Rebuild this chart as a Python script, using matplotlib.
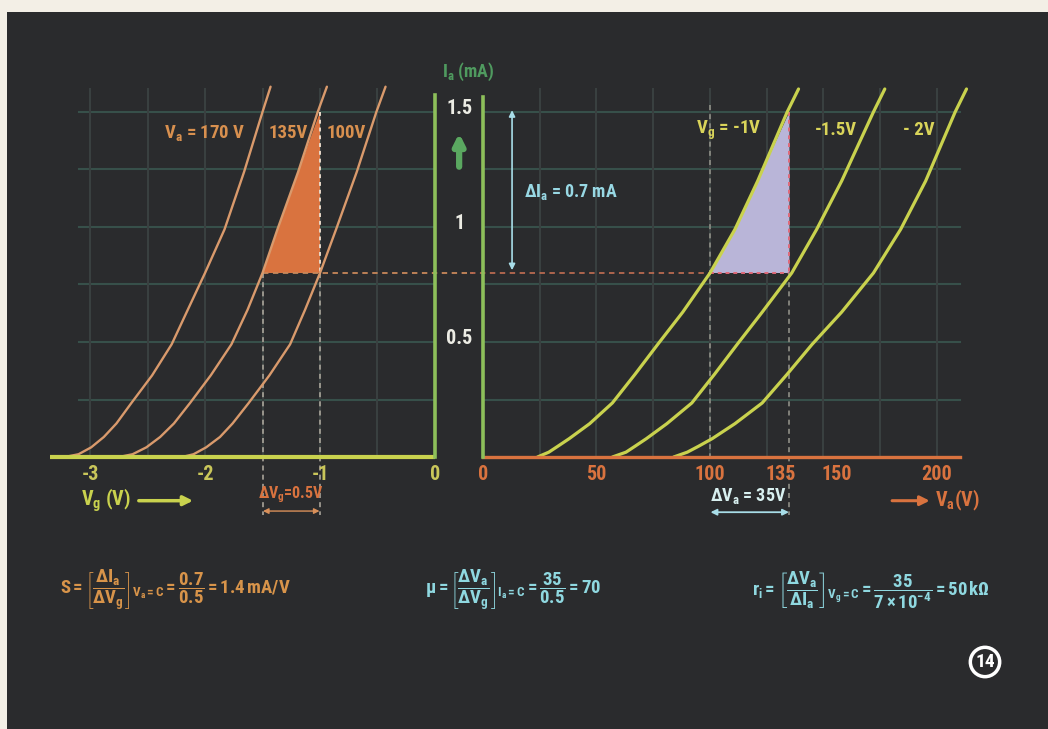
import matplotlib
matplotlib.use('Agg')
import matplotlib.pyplot as plt
from matplotlib import font_manager
from matplotlib.patches import Rectangle, Polygon

# --- data ---
# left panel: Ia (mA) versus Vg (V) for three anode voltages
left_ia = [0, 0.012, 0.042, 0.087, 0.146, 0.235, 0.355, 0.49, 0.64, 0.80, 0.99, 1.24, 1.50, 1.61]
va170_vg = [-3.22, -3.10, -2.99, -2.88, -2.77, -2.64, -2.46, -2.29, -2.15, -2.00, -1.83, -1.66, -1.50, -1.43]
va135_vg = [-2.75, -2.63, -2.51, -2.39, -2.27, -2.13, -1.95, -1.77, -1.63, -1.50, -1.37, -1.19, -1.02, -0.94]
va100_vg = [-2.20, -2.10, -1.99, -1.87, -1.76, -1.62, -1.44, -1.26, -1.13, -1.00, -0.86, -0.68, -0.51, -0.43]
left_tri_vg = [-1.50, -1.37, -1.19, -1.00, -1.00]
left_tri_ia = [0.80, 0.99, 1.24, 1.50, 0.80]

# right panel: Ia (mA) versus Va (V) for three grid voltages
right_ia = [0, 0.021, 0.047, 0.08, 0.145, 0.235, 0.36, 0.49, 0.63, 0.80, 0.99, 1.20, 1.50, 1.60]
vg1_va = [24, 29, 33, 38, 47, 57, 67, 77, 88, 100, 111, 121, 134, 139]
vg15_va = [57, 63, 67, 72, 81, 92, 102, 112, 123, 136, 147, 158, 172, 177]
vg2_va = [84, 90, 95, 101, 111, 123, 134, 145, 158, 172, 184, 195, 208, 213]
right_tri_va = [100, 111, 121, 135, 135]
right_tri_ia = [0.80, 0.99, 1.20, 1.50, 0.80]

left_ticks = [-3, -2, -1, 0]
right_ticks = [0, 50, 100, 135, 150, 200]
ia_ticks = [0.5, 1, 1.5]
grid_ia = [0.25, 0.5, 0.75, 1.0, 1.25, 1.5]
grid_vg = [-3, -2.5, -2, -1.5, -1, -0.5]
grid_va = [25, 50, 75, 100, 125, 150, 175, 200]

# --- font: prefer a condensed face like the original lettering ---
font, stretch, k = 'DejaVu Sans', 'normal', 0.86
fonts = font_manager.fontManager.ttflist
for cand in ('Roboto Condensed', 'Liberation Sans Narrow', 'Open Sans Condensed'):
    if any(f.name == cand for f in fonts):
        font, stretch, k = cand, 'normal', 1.0
        break
else:
    if any(f.name == 'DejaVu Sans' and f.stretch == 'condensed' for f in fonts):
        font, stretch, k = 'DejaVu Sans', 'condensed', 1.0

plt.rcParams['font.family'] = font
plt.rcParams['font.stretch'] = stretch
plt.rcParams['font.weight'] = 'bold'
plt.rcParams['mathtext.fontset'] = 'custom'
for key in ('mathtext.rm', 'mathtext.it', 'mathtext.bf'):
    plt.rcParams[key] = '%s:bold:stretch=%s' % (font, stretch)

bg = '#2a2b2d'
paper = '#f3efe6'
orange = '#d9733f'
tan = '#d99a6c'
ygreen = '#c9d24e'
green = '#8dbf5a'
cyan = '#98d8e4'
gridh = '#37504a'
gridv = '#394040'
white = '#ecece4'

fig = plt.figure(figsize=(10.48, 7.29), dpi=100, facecolor=paper)
fig.add_artist(Rectangle((7 / 1048, 0), 1, 1 - 12 / 729, transform=fig.transFigure,
                         facecolor=bg, edgecolor='none', zorder=-10))

axl = fig.add_axes([40 / 1048, 1 - 520 / 729, 406 / 1048, 440 / 729])
axr = fig.add_axes([470 / 1048, 1 - 520 / 729, 520 / 1048, 440 / 729])
axl.set_xlim(-3.435, 0.0957)
axr.set_xlim(-5.727, 223.35)
for ax in (axl, axr):
    ax.set_ylim(-0.2739, 1.6391)
    ax.set_axis_off()
    ax.patch.set_alpha(0)

# grid
for y in grid_ia:
    axl.plot([-3.1, 0], [y, y], color=gridh, lw=1.5, zorder=1)
    axr.plot([0, 210], [y, y], color=gridh, lw=1.5, zorder=1)
for x in grid_vg:
    axl.plot([x, x], [0, 1.6], color=gridv, lw=1.5, zorder=1)
for x in grid_va:
    axr.plot([x, x], [0, 1.6], color=gridv, lw=1.5, zorder=1)

# filled triangles
axl.add_patch(Polygon(list(zip(left_tri_vg, left_tri_ia)), closed=True,
                      facecolor=orange, edgecolor='none', zorder=2))
axr.add_patch(Polygon(list(zip(right_tri_va, right_tri_ia)), closed=True,
                      facecolor='#b9b5d8', edgecolor='none', zorder=2))

# dashed guide lines
dash = (0, (3, 2.5))
dots = (0, (2, 2))
axl.plot([-1.5, 0.33], [0.8, 0.8], color='#c8875a', lw=1.3, ls=dash, zorder=3, clip_on=False)
axr.plot([-5.7, 100], [0.8, 0.8], color='#b86a50', lw=1.3, ls=dash, zorder=3, clip_on=False)
axl.plot([-1.5, -1.5], [0.8, -0.25], color='#a9a49a', lw=1.2, ls=dash, zorder=3)
axl.plot([-1.0, -1.0], [1.50, 0.8], color='#e8d8c8', lw=1.4, ls=dots, zorder=3)
axl.plot([-1.0, -1.0], [0.8, -0.25], color='#a9a49a', lw=1.2, ls=dash, zorder=3)
axr.plot([100, 100], [1.53, 0], color='#8f8f86', lw=1.2, ls=dash, zorder=3)
axr.plot([135, 135], [1.5, 0.8], color='#e06878', lw=1.4, ls=dots, zorder=3)
axr.plot([100, 135], [0.8, 0.8], color='#e06878', lw=1.4, ls=dots, zorder=3)
axr.plot([135, 135], [0.8, -0.25], color='#8f8f86', lw=1.2, ls=dash, zorder=3)

# characteristic curves
for xs in (va170_vg, va135_vg, va100_vg):
    axl.plot(xs, left_ia, color=tan, lw=1.7, zorder=4, solid_capstyle='round',
             solid_joinstyle='round')
for xs in (vg1_va, vg15_va, vg2_va):
    axr.plot(xs, right_ia, color=ygreen, lw=2.3, zorder=4, solid_capstyle='round',
             solid_joinstyle='round')

# axes lines
axl.plot([-3.35, 0], [0, 0], color=ygreen, lw=3, zorder=5, solid_capstyle='butt')
axl.plot([0, 0], [0, 1.574], color=green, lw=2.6, zorder=5)
axr.plot([0, 210], [0, 0], color=orange, lw=2.4, zorder=5)
axr.plot([0, 0], [0, 1.565], color=green, lw=2.6, zorder=5)

# tick labels
fs = 14.5 * k
for v in left_ticks:
    axl.text(v, -0.075, '%d' % v, color='#c9c65a', fontsize=fs,
             ha='center', va='center', zorder=6)
right_off = {135: -4, 150: 6}
for v in right_ticks:
    axr.text(v + right_off.get(v, 0), -0.075, str(v), color=orange, fontsize=fs,
             ha='center', va='center', zorder=6)
for v in ia_ticks:
    axl.text(0.21, v + 0.015, '%g' % v, color=white, fontsize=fs,
             ha='center', va='center', zorder=6, clip_on=False)

fig.text(468 / 1048, 1 - 72 / 729, r'I$_a$ (mA)', color='#4f9a5f', fontsize=13 * k,
         ha='center', va='center')
axl.annotate('', xy=(0.21, 1.42), xytext=(0.21, 1.25),
             arrowprops=dict(arrowstyle='-|>', color='#5aa860', lw=4.5, mutation_scale=16),
             annotation_clip=False)

# axis names with arrows
axl.text(-3.08, -0.19, r'V$_g$ (V)', color=ygreen, fontsize=fs, ha='left', va='center')
axl.annotate('', xy=(-2.08, -0.19), xytext=(-2.6, -0.19),
             arrowprops=dict(arrowstyle='-|>', color=ygreen, lw=2.5, mutation_scale=14))
axr.annotate('', xy=(198, -0.19), xytext=(179, -0.19),
             arrowprops=dict(arrowstyle='-|>', color=orange, lw=2.2, mutation_scale=14),
             annotation_clip=False)
axr.text(199, -0.19, r'V$_a$(V)', color=orange, fontsize=fs, ha='left', va='center')

# curve labels
lfs = 13.5 * k
axl.text(-2.36, 1.41, r'V$_a$ = 170 V', color='#d8904f', fontsize=lfs, ha='left', va='center')
axl.text(-1.45, 1.41, '135V', color='#d8904f', fontsize=lfs, ha='left', va='center')
axl.text(-0.94, 1.41, '100V', color='#d8904f', fontsize=lfs, ha='left', va='center')
axr.text(94, 1.42, r'V$_g$ = -1V', color='#d9d45a', fontsize=lfs, ha='left', va='center')
axr.text(146, 1.42, '-1.5V', color='#d9d45a', fontsize=lfs, ha='left', va='center')
axr.text(185, 1.42, '- 2V', color='#d9d45a', fontsize=lfs, ha='left', va='center')

# delta annotations
axr.annotate('', xy=(12.8, 1.52), xytext=(12.8, 0.80),
             arrowprops=dict(arrowstyle='<|-|>', color='#a8dde8', lw=1.2, mutation_scale=9))
axr.text(18, 1.15, r'$\Delta$I$_a$ = 0.7 mA', color=cyan, fontsize=13 * k, ha='left', va='center')
axr.text(117, -0.168, r'$\Delta$V$_a$ = 35V', color='#d8f0f0', fontsize=13 * k,
         ha='center', va='center')
axr.annotate('', xy=(99, -0.24), xytext=(136, -0.24),
             arrowprops=dict(arrowstyle='<|-|>', color='#a8dde8', lw=1.3, mutation_scale=9))
axl.text(-1.25, -0.165, r'$\Delta$V$_g$=0.5V', color=orange, fontsize=11.5 * k,
         ha='center', va='center')
axl.annotate('', xy=(-1.52, -0.235), xytext=(-0.98, -0.235),
             arrowprops=dict(arrowstyle='<|-|>', color='#d9905a', lw=1.0, mutation_scale=8))

# formulas
ffs = 13.5 * k
fig.text(60 / 1048, 1 - 590 / 729,
         r'$S=\left[\dfrac{\Delta I_a}{\Delta V_g}\right]_{V_a=C}=\dfrac{0.7}{0.5}=1.4\,mA/V$',
         color='#d8944a', fontsize=ffs, ha='left', va='center')
fig.text(425 / 1048, 1 - 590 / 729,
         r'$\mu=\left[\dfrac{\Delta V_a}{\Delta V_g}\right]_{I_a=C}=\dfrac{35}{0.5}=70$',
         color='#8fd8e0', fontsize=ffs, ha='left', va='center')
fig.text(752 / 1048, 1 - 590 / 729,
         r'$r_i=\left[\dfrac{\Delta V_a}{\Delta I_a}\right]_{V_g=C}=\dfrac{35}{7\times10^{-4}}=50\,k\Omega$',
         color='#8fd8e0', fontsize=ffs, ha='left', va='center')

# figure number
fig.text(985 / 1048, 1 - 662 / 729, '14', color='white', fontsize=14,
         ha='center', va='center',
         bbox=dict(boxstyle='circle,pad=0.25', facecolor='none', edgecolor='white', lw=2.5))

fig.savefig('out.png', dpi=100, facecolor=paper)
